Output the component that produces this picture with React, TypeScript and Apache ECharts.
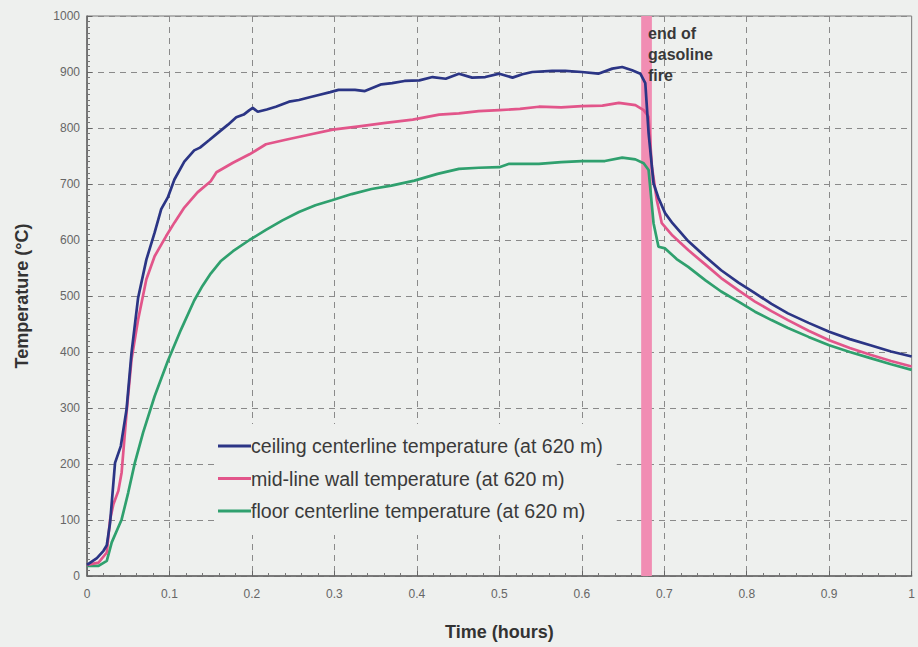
import React, { useEffect, useRef } from "react";
import * as echarts from "echarts";

const xTicks = ["0", "0.1", "0.2", "0.3", "0.4", "0.5", "0.6", "0.7", "0.8", "0.9", "1"];

const seriesNames = [
  "ceiling centerline temperature (at 620 m)",
  "mid-line wall temperature (at 620 m)",
  "floor centerline temperature (at 620 m)",
];

const ceilingTime = [0, 0.012, 0.02, 0.024, 0.028, 0.034, 0.041, 0.048, 0.054, 0.062, 0.072, 0.082, 0.09, 0.098, 0.106, 0.118, 0.13, 0.137, 0.148, 0.161, 0.171, 0.181, 0.19, 0.197, 0.201, 0.207, 0.218, 0.229, 0.245, 0.257, 0.27, 0.281, 0.295, 0.305, 0.325, 0.337, 0.357, 0.37, 0.385, 0.403, 0.419, 0.435, 0.451, 0.467, 0.483, 0.5, 0.516, 0.528, 0.54, 0.564, 0.58, 0.6, 0.62, 0.637, 0.649, 0.661, 0.671, 0.677, 0.681, 0.687, 0.693, 0.701, 0.71, 0.729, 0.75, 0.769, 0.79, 0.81, 0.83, 0.85, 0.875, 0.9, 0.925, 0.95, 0.975, 1.0];
const ceilingTemp = [20, 32, 45, 55, 95, 202, 232, 298, 399, 497, 565, 613, 655, 676, 708, 740, 760, 765, 778, 794, 806, 819, 824, 832, 836, 829, 833, 838, 847, 850, 855, 859, 864, 868, 868, 866, 878, 880, 884, 885, 891, 888, 897, 890, 891, 897, 890, 896, 900, 902, 902, 900, 897, 906, 909, 903, 897, 880, 791, 701, 675, 648, 630, 598, 570, 546, 524, 505, 486, 469, 452, 436, 423, 412, 401, 392];

const wallTime = [0, 0.014, 0.024, 0.028, 0.032, 0.038, 0.042, 0.048, 0.054, 0.062, 0.072, 0.082, 0.096, 0.106, 0.118, 0.134, 0.15, 0.157, 0.177, 0.197, 0.217, 0.241, 0.269, 0.298, 0.33, 0.362, 0.395, 0.427, 0.451, 0.475, 0.5, 0.525, 0.548, 0.575, 0.6, 0.625, 0.645, 0.665, 0.675, 0.681, 0.685, 0.691, 0.697, 0.71, 0.729, 0.75, 0.769, 0.79, 0.81, 0.83, 0.85, 0.875, 0.9, 0.925, 0.95, 0.975, 1.0];
const wallTemp = [20, 24, 42, 101, 128, 152, 185, 292, 387, 458, 530, 571, 607, 631, 658, 685, 705, 721, 738, 753, 771, 779, 788, 797, 803, 809, 815, 824, 826, 830, 832, 834, 838, 837, 839, 840, 845, 841, 832, 820, 731, 671, 630, 608, 582, 556, 532, 510, 490, 473, 457, 438, 421, 407, 395, 384, 374];

const floorTime = [0, 0.014, 0.024, 0.03, 0.042, 0.05, 0.058, 0.068, 0.082, 0.098, 0.114, 0.13, 0.14, 0.15, 0.162, 0.177, 0.197, 0.217, 0.237, 0.257, 0.277, 0.297, 0.321, 0.345, 0.369, 0.397, 0.425, 0.451, 0.475, 0.5, 0.512, 0.548, 0.575, 0.6, 0.628, 0.649, 0.665, 0.675, 0.681, 0.687, 0.693, 0.701, 0.715, 0.729, 0.75, 0.769, 0.79, 0.81, 0.83, 0.85, 0.875, 0.9, 0.925, 0.95, 0.975, 1.0];
const floorTemp = [18, 18, 27, 60, 101, 149, 202, 256, 321, 384, 440, 492, 518, 540, 562, 580, 600, 618, 635, 650, 662, 671, 682, 691, 697, 706, 718, 727, 729, 730, 736, 736, 739, 741, 741, 747, 744, 737, 725, 630, 588, 585, 566, 552, 528, 508, 490, 472, 457, 443, 427, 412, 400, 389, 378, 368];

const fireEnd = [0.672, 0.685];
const fireNote = "end of\ngasoline\nfire";

const zip = (a: number[], b: number[]) => a.map((v, i) => [v, b[i]]);

const BG = "#eef0ee";
const FONT = "Liberation Sans, Arial, sans-serif";

export default function App() {
  const ref = useRef<HTMLDivElement>(null);
  useEffect(() => {
    document.body.style.margin = "0";
    const chart = echarts.init(ref.current!, undefined, { renderer: "svg" });
    const lineSeries = (name: string, data: number[][], color: string, z: number) => ({
      name,
      type: "line",
      data,
      showSymbol: false,
      symbol: "none",
      lineStyle: { color, width: 2.7 },
      itemStyle: { color },
      z,
    });
    chart.setOption({
      animation: false,
      backgroundColor: BG,
      textStyle: { fontFamily: FONT },
      grid: {
        left: 87,
        right: 2,
        top: 16,
        bottom: 71,
        show: true,
        borderColor: "#777",
        borderWidth: 1,
        backgroundColor: BG,
      },
      legend: {
        orient: "vertical",
        left: 215,
        top: 424,
        icon: "rect",
        itemWidth: 33,
        itemHeight: 3,
        itemGap: 12.5,
        padding: [12, 14, 14, 3],
        backgroundColor: BG,
        textStyle: { fontSize: 19.6, color: "#3a3a3a", fontFamily: FONT, padding: [0, 0, 0, -5] },
        data: seriesNames,
      },
      xAxis: {
        type: "value",
        min: 0,
        max: 1,
        interval: 0.1,
        name: "Time (hours)",
        nameLocation: "middle",
        nameGap: 47,
        nameTextStyle: { fontSize: 18, fontWeight: "bold", color: "#333", fontFamily: FONT },
        axisLine: { lineStyle: { color: "#666", width: 1.5 } },
        axisTick: { show: true, inside: true, length: 5, lineStyle: { color: "#666" } },
        minorTick: { show: true, splitNumber: 5, length: 3, lineStyle: { color: "#777" } },
        axisLabel: {
          margin: 12,
          fontSize: 12,
          color: "#666",
          fontFamily: FONT,
          formatter: (v: number) => xTicks[Math.round(v * 10)],
        },
        splitLine: { show: true, lineStyle: { color: "#8a8a8a", type: [6, 5], width: 1 } },
      },
      yAxis: {
        type: "value",
        min: 0,
        max: 1000,
        interval: 100,
        name: "Temperature (°C)",
        nameLocation: "middle",
        nameGap: 56,
        nameTextStyle: { fontSize: 18, fontWeight: "bold", color: "#333", fontFamily: FONT },
        axisLine: { show: true, lineStyle: { color: "#666", width: 1.5 } },
        axisTick: { show: true, inside: true, length: 5, lineStyle: { color: "#666" } },
        minorTick: { show: true, splitNumber: 10, length: 3, lineStyle: { color: "#777" } },
        axisLabel: { margin: 7, fontSize: 12, color: "#666", fontFamily: FONT, formatter: (v: number) => String(v) },
        splitLine: { show: true, lineStyle: { color: "#8a8a8a", type: [6, 5], width: 1 } },
      },
      series: [
        {
          name: "fire",
          type: "line",
          data: [],
          z: 1,
          markArea: {
            silent: true,
            itemStyle: { color: "#f18db3", opacity: 1 },
            data: [[{ xAxis: fireEnd[0] }, { xAxis: fireEnd[1] }]],
          },
        },
        lineSeries(seriesNames[2], zip(floorTime, floorTemp), "#2fa06e", 3),
        lineSeries(seriesNames[1], zip(wallTime, wallTemp), "#e2558a", 4),
        lineSeries(seriesNames[0], zip(ceilingTime, ceilingTemp), "#2b3585", 5),
      ],
      graphic: [
        {
          type: "text",
          left: 648,
          top: 23,
          z: 10,
          style: {
            text: fireNote,
            font: "bold 16px Liberation Sans, Arial, sans-serif",
            fill: "#383838",
            lineHeight: 21,
          },
        },
      ],
    });
    return () => chart.dispose();
  }, []);
  return <div ref={ref} style={{ position: "absolute", left: 0, top: 0, width: 918, height: 647 }} />;
}
